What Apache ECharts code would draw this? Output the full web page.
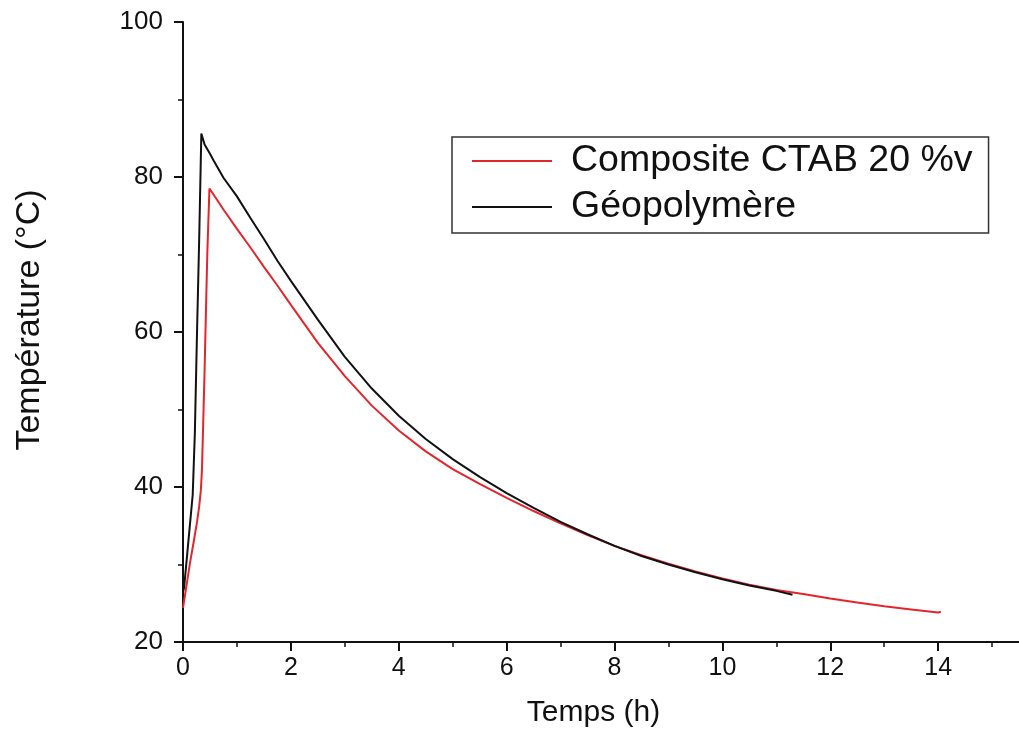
<!DOCTYPE html>
<html>
<head>
<meta charset="utf-8">
<title>Température</title>
<script src="https://cdn.jsdelivr.net/npm/echarts@6/dist/echarts.min.js"></script>
<style>
  html, body { margin: 0; padding: 0; background: #fff; }
  #charts { width: 1019px; height: 744px; }
</style>
</head>
<body>
<div id="charts"></div>
<script>
// Composite CTAB 20 %v (red)
const timeComp = [0, 0.07, 0.13, 0.2, 0.26, 0.3, 0.33, 0.35, 0.37, 0.4, 0.45, 0.49, 0.55, 0.75, 1.0, 1.25, 1.5, 1.75, 2.0, 2.5, 3.0, 3.5, 4.0, 4.5, 5.0, 5.5, 6.0, 6.5, 7.0, 7.5, 8.0, 8.5, 9.0, 9.5, 10.0, 10.5, 11.0, 11.5, 12.0, 12.5, 13.0, 13.5, 14.0, 14.05];
const tempComp = [24.4, 27.5, 30.2, 33.0, 35.5, 37.5, 39.5, 42.0, 47.0, 55.0, 70.0, 78.5, 77.9, 75.8, 73.3, 70.9, 68.4, 66.0, 63.5, 58.6, 54.3, 50.5, 47.3, 44.6, 42.3, 40.4, 38.6, 36.9, 35.3, 33.8, 32.4, 31.2, 30.1, 29.1, 28.2, 27.4, 26.7, 26.2, 25.6, 25.1, 24.6, 24.2, 23.8, 23.9];

// Géopolymère (black)
const timeGeo = [0, 0.02, 0.08, 0.14, 0.18, 0.22, 0.26, 0.3, 0.34, 0.4, 0.5, 0.57, 0.75, 1.0, 1.25, 1.5, 1.75, 2.0, 2.5, 3.0, 3.5, 4.0, 4.5, 5.0, 5.5, 6.0, 6.5, 7.0, 7.5, 8.0, 8.5, 9.0, 9.5, 10.0, 10.5, 11.0, 11.3];
const tempGeo = [26.5, 27.0, 31.5, 36.0, 39.0, 47.0, 60.0, 72.0, 85.6, 84.2, 83.0, 82.1, 79.9, 77.5, 74.7, 72.0, 69.2, 66.6, 61.6, 56.8, 52.7, 49.2, 46.2, 43.6, 41.3, 39.2, 37.3, 35.5, 33.9, 32.4, 31.1, 30.0, 29.0, 28.1, 27.3, 26.6, 26.1];

const seriesNames = ['Composite CTAB 20 %v', 'Géopolymère'];
const xTitle = 'Temps (h)';
const yTitle = 'Température (°C)';

const pairs = (xs, ys) => xs.map((x, i) => [x, ys[i]]);

const sans = '"Liberation Sans", Arial, sans-serif';

const chart = echarts.init(document.getElementById('charts'));
chart.setOption({
  animation: false,
  backgroundColor: '#fff',
  grid: { left: 183, top: 22, right: -27, bottom: 102, outerBoundsMode: 'none' },
  legend: {
    orient: 'vertical',
    left: 452,
    top: 137,
    icon: 'rect',
    itemWidth: 80,
    itemHeight: 2,
    itemGap: 8,
    padding: [5, 16, 7, 20],
    borderColor: '#333',
    borderWidth: 1.5,
    textStyle: { fontFamily: sans, fontSize: 37.5, color: '#111', padding: [0, 0, 0, 14] },
    data: seriesNames
  },
  xAxis: {
    type: 'value',
    min: 0,
    max: 16,
    interval: 2,
    name: xTitle,
    nameLocation: 'middle',
    nameGap: 56,
    nameTextStyle: { fontFamily: sans, fontSize: 30, color: '#111', padding: [0, 42, 0, 0] },
    axisLine: { onZero: false, lineStyle: { color: '#111', width: 2 } },
    axisTick: { length: 9, lineStyle: { color: '#111', width: 2 } },
    minorTick: { show: true, splitNumber: 2, length: 5, lineStyle: { color: '#111', width: 1.5 } },
    axisLabel: {
      margin: 14,
      fontFamily: sans,
      fontSize: 25,
      color: '#111',
      formatter: v => (v <= 14 ? String(v) : '')
    },
    splitLine: { show: false }
  },
  yAxis: {
    type: 'value',
    min: 20,
    max: 100,
    interval: 20,
    name: yTitle,
    nameLocation: 'middle',
    nameGap: 136,
    nameTextStyle: { fontFamily: sans, fontSize: 34, color: '#111', padding: [0, 0, 0, 24] },
    axisLine: { show: true, onZero: false, lineStyle: { color: '#111', width: 2 } },
    axisTick: { show: true, length: 9, lineStyle: { color: '#111', width: 2 } },
    minorTick: { show: true, splitNumber: 2, length: 5, lineStyle: { color: '#111', width: 1.5 } },
    axisLabel: { margin: 20, fontFamily: sans, fontSize: 26, color: '#111' },
    splitLine: { show: false }
  },
  series: [
    {
      name: seriesNames[0],
      type: 'line',
      symbol: 'none',
      z: 2,
      lineStyle: { color: '#e3262c', width: 2 },
      itemStyle: { color: '#e3262c' },
      data: pairs(timeComp, tempComp)
    },
    {
      name: seriesNames[1],
      type: 'line',
      symbol: 'none',
      z: 3,
      lineStyle: { color: '#111', width: 2 },
      itemStyle: { color: '#111' },
      data: pairs(timeGeo, tempGeo)
    }
  ]
});
</script>
</body>
</html>
